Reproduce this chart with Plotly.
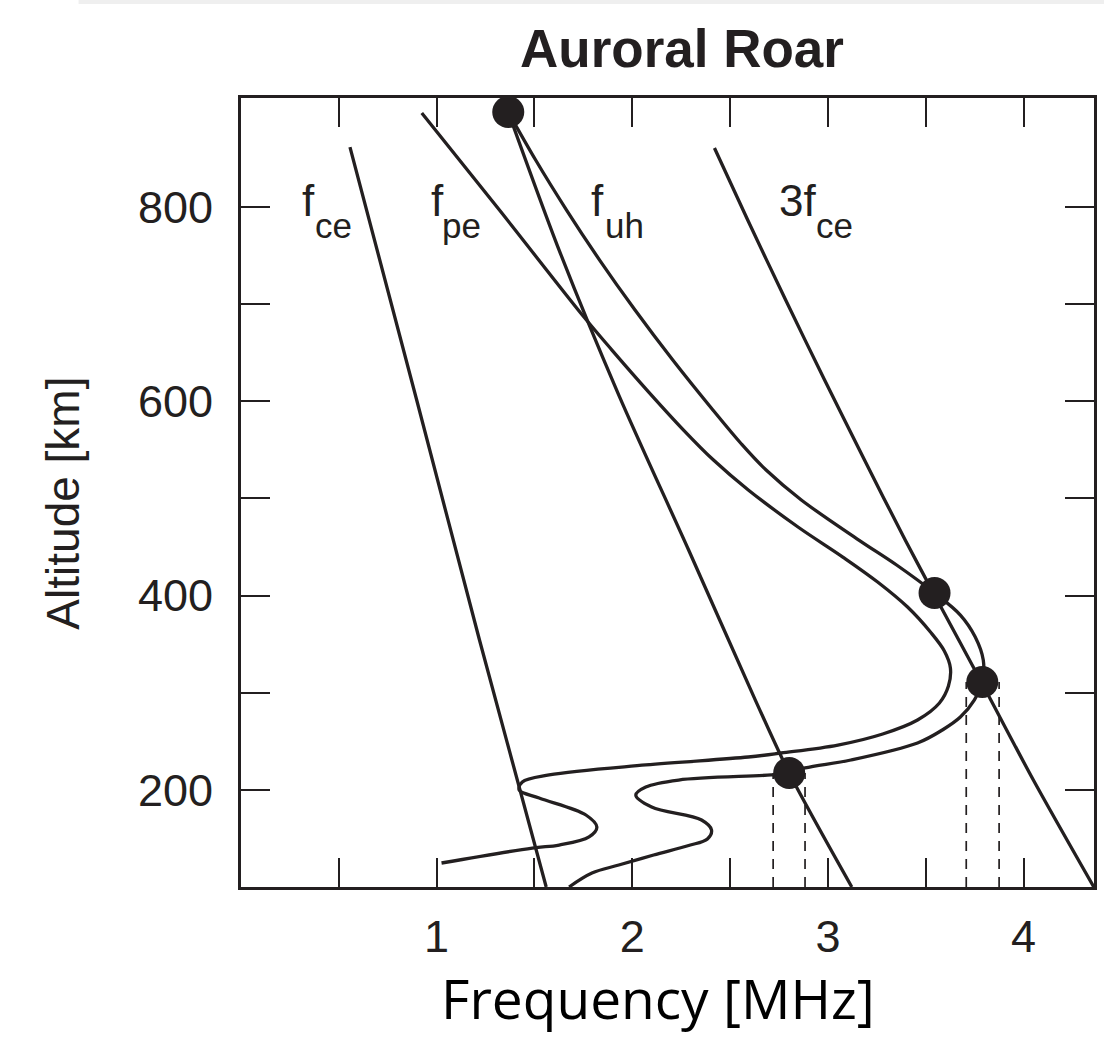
import plotly.graph_objects as go

INK = "#231f20"

# ---- data (frequency in MHz, altitude in km) ----
fce_freq = [0.557, 0.898, 1.219, 1.560]
fce_alt = [861.5, 601.2, 354.2, 100.0]

twofce_freq = [1.366, 1.626, 1.931, 2.288, 2.629, 2.802, 3.122]
twofce_alt = [897.6, 755.5, 606.3, 446.8, 292.4, 217.3, 100.0]

threefce_freq = [2.420, 2.590, 2.784, 2.983, 3.187, 3.395, 3.539, 3.784, 4.050, 4.359]
threefce_alt = [860.5, 786.4, 704.1, 621.8, 539.4, 457.1, 402.6, 311.0, 210.1, 100.0]

fpe_freq = [0.924, 1.321, 1.753, 1.896, 2.084, 2.262, 2.415, 2.593, 2.847, 3.076,
            3.254, 3.407, 3.524, 3.595, 3.626, 3.616, 3.570, 3.458, 3.280, 3.051,
            2.761, 2.593, 2.069, 1.575, 1.438, 1.422, 1.524, 1.763, 1.819, 1.779,
            1.626, 1.489, 1.025]
fpe_alt = [896.5, 796.7, 686.6, 652.6, 609.4, 570.3, 539.4, 508.6, 470.5, 439.6,
           413.9, 388.1, 362.4, 342.9, 325.4, 306.8, 289.4, 271.9, 257.5, 246.1,
           237.9, 233.8, 225.6, 215.3, 208.1, 199.8, 191.6, 174.1, 161.7, 151.5,
           143.2, 140.1, 124.7]

fuh_freq = [1.366, 1.506, 1.664, 1.833, 2.014, 2.207, 2.412, 2.558, 2.684, 2.864,
            3.158, 3.351, 3.545, 3.677, 3.753, 3.794, 3.789, 3.748, 3.677,
            3.585, 3.458, 3.117, 2.883, 2.802, 2.710, 2.237, 2.069, 2.018, 2.099,
            2.354, 2.405, 2.384, 2.288, 2.109, 1.931, 1.794, 1.677]
fuh_alt = [897.6, 848.2, 796.7, 745.2, 693.8, 642.3, 590.9, 555.9, 529.1, 498.3,
           457.1, 431.4, 402.6, 379.9, 357.3, 333.6, 311.0, 292.4, 274.9,
           261.6, 248.2, 230.7, 222.5, 217.3, 215.3, 210.1, 202.9, 194.7, 182.3,
           169.0, 158.7, 149.4, 142.7, 132.9, 122.6, 114.4, 100.0]

dot_freq = [1.366, 3.545, 3.789, 2.802]
dot_alt = [897.6, 402.6, 311.0, 217.3]

dash_freq = [2.720, 2.883, 3.707, 3.875]
dash_top = [217.3, 217.3, 311.0, 311.0]

label_main = ["f", "f", "f", "3f"]
label_main_freq = [0.303, 0.960, 1.779, 2.741]
label_sub = ["ce", "pe", "uh", "ce"]
label_sub_freq = [0.369, 1.016, 1.850, 2.929]
label_main_alt = 807.0
label_sub_alt = 780.8

x_major = [1, 2, 3, 4]
x_minor = [0.5, 1.5, 2.5, 3.5]
y_major = [200, 400, 600, 800]
y_minor = [300, 500, 700]

X_RANGE = [0, 4.36]
Y_RANGE = [100, 912]

HELV = "Liberation Sans, Arial, Helvetica"

fig = go.Figure()

# dashed verticals
dx, dy = [], []
for f, top in zip(dash_freq, dash_top):
    dx += [f, f, None]
    dy += [Y_RANGE[0], top, None]
fig.add_trace(go.Scatter(x=dx, y=dy, mode="lines",
                         line=dict(color=INK, width=1.7, dash="10px,8px"),
                         hoverinfo="skip", showlegend=False))

for fx, fy, sm in [(fce_freq, fce_alt, 0.6), (twofce_freq, twofce_alt, 0.8),
                   (threefce_freq, threefce_alt, 0.8), (fpe_freq, fpe_alt, 1.0),
                   (fuh_freq, fuh_alt, 1.0)]:
    fig.add_trace(go.Scatter(x=fx, y=fy, mode="lines",
                             line=dict(color=INK, width=3.3, shape="spline", smoothing=sm),
                             showlegend=False))

fig.add_trace(go.Scatter(x=dot_freq, y=dot_alt, mode="markers",
                         marker=dict(color=INK, size=32), showlegend=False))

for t, fx in zip(label_main, label_main_freq):
    fig.add_annotation(x=fx, y=label_main_alt, xref="x", yref="y", text=t, showarrow=False,
                       xanchor="left", yanchor="middle",
                       font=dict(family=HELV, size=44, color=INK))
for t, fx in zip(label_sub, label_sub_freq):
    fig.add_annotation(x=fx, y=label_sub_alt, xref="x", yref="y", text=t, showarrow=False,
                       xanchor="left", yanchor="middle",
                       font=dict(family=HELV, size=35, color=INK))

# axis titles
fig.add_annotation(x=(659 - 241) / 856, y=(887 - 997) / 789, xref="paper", yref="paper",
                   text="Frequency [MHz]", showarrow=False, xanchor="center", yanchor="middle",
                   font=dict(family="Open Sans", size=55, color="black"))
fig.add_annotation(x=(62 - 241) / 856, y=(887 - 503) / 789, xref="paper", yref="paper",
                   text="Altitude [km]", textangle=-90, showarrow=False,
                   xanchor="center", yanchor="middle",
                   font=dict(family=HELV, size=46, color=INK))

axis_common = dict(showline=True, linecolor=INK, linewidth=3, mirror="ticks",
                   ticks="inside", ticklen=29, tickwidth=2, tickcolor=INK,
                   showgrid=False, zeroline=False,
                   tickfont=dict(family=HELV, size=45, color=INK))

fig.update_xaxes(range=X_RANGE, tickmode="array", tickvals=x_major,
                 ticktext=[str(v) for v in x_major], ticklabelstandoff=8,
                 minor=dict(tickmode="array", tickvals=x_minor, ticks="inside",
                            ticklen=29, tickwidth=2, tickcolor=INK, showgrid=False),
                 **axis_common)
fig.update_yaxes(range=Y_RANGE, tickmode="array", tickvals=y_major,
                 ticktext=[str(v) for v in y_major], ticklabelstandoff=16,
                 minor=dict(tickmode="array", tickvals=y_minor, ticks="inside",
                            ticklen=29, tickwidth=2, tickcolor=INK, showgrid=False),
                 **axis_common)

fig.update_layout(
    width=1107, height=1037,
    margin=dict(l=241, r=10, t=98, b=150),
    paper_bgcolor="white", plot_bgcolor="white",
    title=dict(text="<b>Auroral Roar</b>", x=682 / 1107, xanchor="center", xref="container",
               y=1 - 48 / 1037, yanchor="middle", yref="container",
               font=dict(family=HELV, size=53, color=INK)),
    shapes=[dict(type="rect", xref="paper", yref="paper",
                 x0=-(241 - 78) / 856, x1=1 + 10 / 856,
                 y0=1 + 94 / 789, y1=1 + 98 / 789,
                 line=dict(width=0), fillcolor="#efefef", layer="below")],
)

fig.write_html("out.html")
